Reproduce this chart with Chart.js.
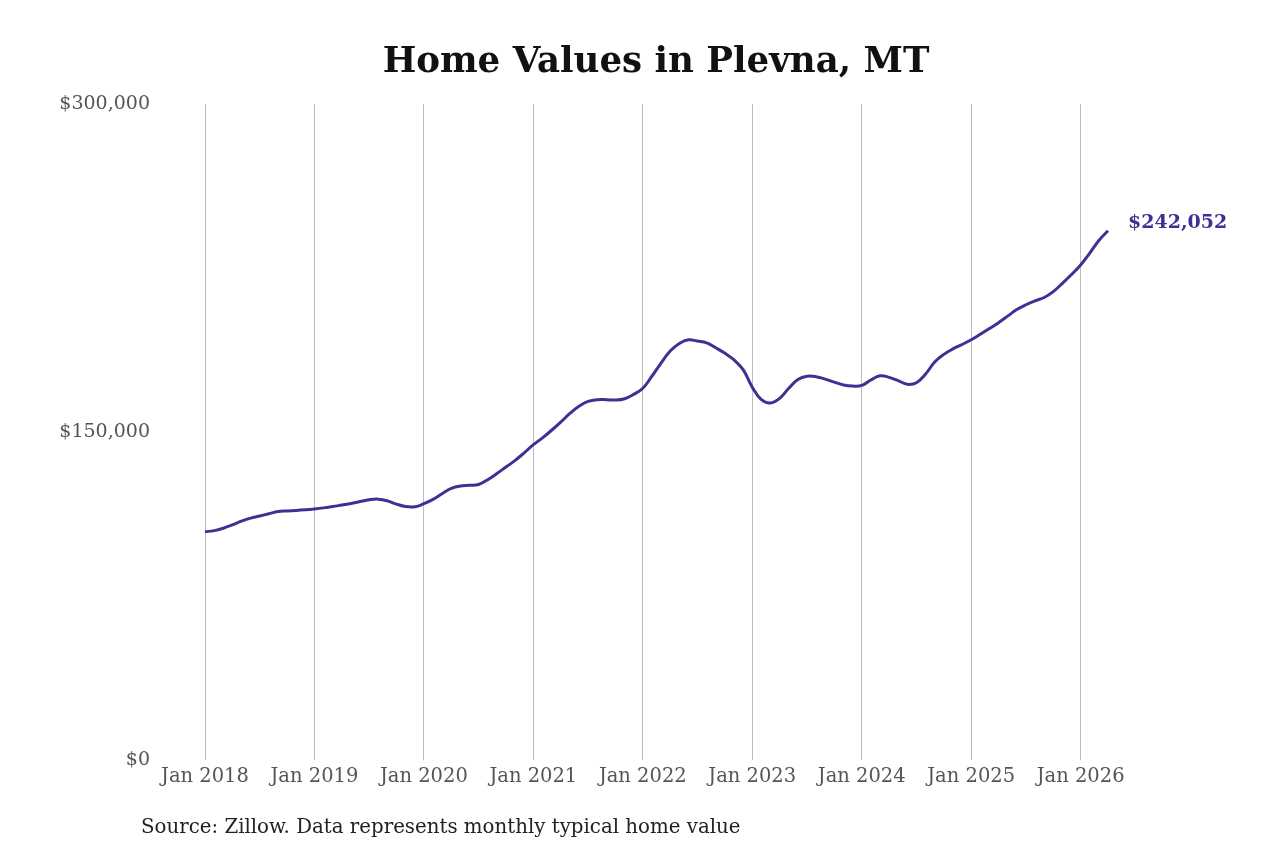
<!DOCTYPE html>
<html>
<head>
<meta charset="utf-8">
<script src="https://cdn.jsdelivr.net/npm/chart.js@4"></script>
<style>
  html, body { margin: 0; padding: 0; background: #fff; }
  #wrap { width: 1280px; height: 853px; }
</style>
</head>
<body>
<div id="wrap"><canvas id="homeChart" width="1280" height="853"></canvas></div>
<script>
// monthly typical home value, Jan 2018 .. Apr 2026
var monthNames = ['Jan','Feb','Mar','Apr','May','Jun','Jul','Aug','Sep','Oct','Nov','Dec'];
var years = [2018, 2019, 2020, 2021, 2022, 2023, 2024, 2025, 2026];
var values2018 = [104400, 104900, 106000, 107500, 109200, 110600, 111600, 112600, 113600, 113900, 114100, 114400];
var values2019 = [114800, 115300, 115900, 116600, 117300, 118200, 119000, 119300, 118500, 117000, 115900, 115800];
var values2020 = [117200, 119200, 121800, 124200, 125300, 125600, 126000, 128200, 131000, 134000, 137000, 140500];
var values2021 = [144200, 147300, 150800, 154500, 158500, 161800, 164000, 164800, 164800, 164600, 165200, 167200];
var values2022 = [170000, 175500, 181500, 187000, 190500, 192200, 191600, 190800, 188500, 186000, 183000, 178500];
var values2023 = [170500, 164800, 163300, 165400, 170000, 174000, 175500, 175300, 174200, 172800, 171500, 171000];
var values2024 = [171300, 173800, 175700, 175000, 173500, 171800, 172500, 176500, 182000, 185500, 188000, 190000];
var values2025 = [192200, 194700, 197300, 200000, 203000, 206000, 208200, 210000, 211500, 214200, 218000, 222000];
var values2026 = [226400, 231800, 237600, 242052];
var yTicks = [0, 150000, 300000];

var chartTitle = 'Home Values in Plevna, MT';
var sourceNote = 'Source: Zillow. Data represents monthly typical home value';

var values = [].concat(values2018, values2019, values2020, values2021, values2022,
                       values2023, values2024, values2025, values2026);
var labels = [];
for (var i = 0; i < values.length; i++) {
  labels.push(monthNames[i % 12] + ' ' + years[Math.floor(i / 12)]);
}

var lineColor = '#3b3394';
var serif = '"DejaVu Serif", serif';

function money(v) {
  return '$' + v.toLocaleString('en-US');
}

// title, source line and the end value label
var extras = {
  id: 'extras',
  afterDraw: function(chart) {
    var ctx = chart.ctx;
    ctx.save();
    ctx.fillStyle = '#111';
    ctx.font = 'bold 35.6px ' + serif;
    ctx.textAlign = 'center';
    ctx.textBaseline = 'middle';
    ctx.fillText(chartTitle, 656, 63);

    ctx.fillStyle = '#222';
    ctx.font = '19.8px ' + serif;
    ctx.textAlign = 'left';
    ctx.fillText(sourceNote, 141, 828);

    var meta = chart.getDatasetMeta(0);
    var last = meta.data[meta.data.length - 1];
    ctx.fillStyle = lineColor;
    ctx.font = 'bold 19px ' + serif;
    ctx.fillText(money(values[values.length - 1]), last.x + 20, last.y - 8);
    ctx.restore();
  }
};

var ctx = document.getElementById('homeChart');
var homeChart = new Chart(ctx, {
  type: 'line',
  data: {
    labels: labels,
    datasets: [{
      label: 'Home value',
      data: values,
      borderColor: lineColor,
      borderWidth: 3,
      pointRadius: 0,
      tension: 0.4,
      fill: false
    }]
  },
  options: {
    responsive: false,
    animation: false,
    layout: { padding: { top: 104, right: 172, bottom: 0, left: 0 } },
    plugins: {
      legend: { display: false },
      title: { display: false },
      tooltip: { enabled: false }
    },
    scales: {
      x: {
        type: 'category',
        offset: false,
        border: { display: false },
        grid: {
          drawTicks: false,
          lineWidth: 1,
          color: function(c) {
            return (c.index % 12 === 0) ? '#bdbdbd' : 'rgba(0,0,0,0)';
          }
        },
        ticks: {
          autoSkip: false,
          maxRotation: 0,
          padding: 5,
          color: '#555',
          font: { family: serif, size: 19.5 },
          callback: function(val, idx) {
            return (idx % 12 === 0) ? labels[idx] : '';
          }
        },
        afterFit: function(scale) { scale.height = 93; }
      },
      y: {
        min: 0,
        max: 300000,
        border: { display: false },
        grid: { display: false, drawTicks: false },
        afterBuildTicks: function(scale) {
          scale.ticks = yTicks.map(function(v) { return { value: v }; });
        },
        ticks: {
          padding: 55,
          color: '#555',
          font: { family: serif, size: 19 },
          callback: function(v) { return money(v); }
        },
        afterFit: function(scale) { scale.width = 205; }
      }
    }
  },
  plugins: [extras]
});
</script>
</body>
</html>
